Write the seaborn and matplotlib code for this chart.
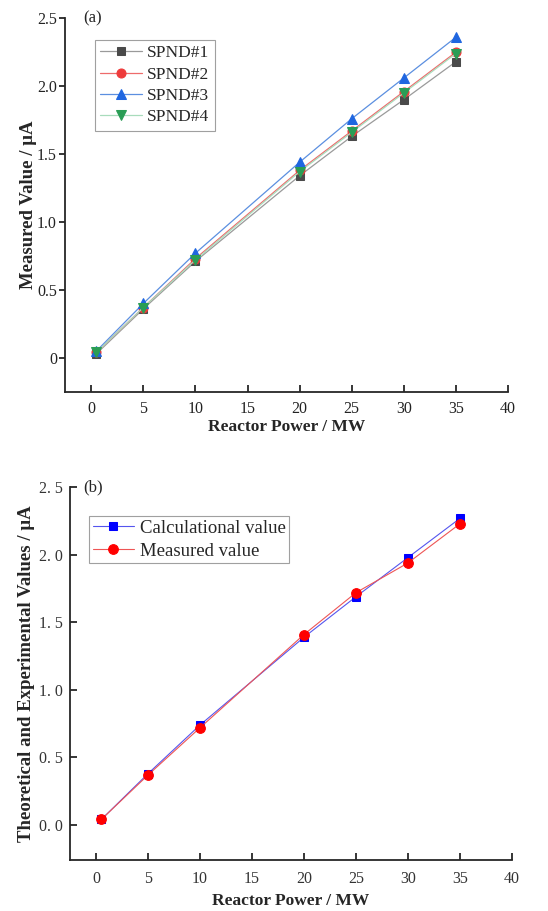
import pandas as pd
import seaborn as sns
import matplotlib.pyplot as plt

# Reactor power levels (MW)
power = [0.5, 5, 10, 20, 25, 30, 35]

# (a) SPND measured currents (uA)
spnd1 = [0.03, 0.36, 0.71, 1.34, 1.63, 1.90, 2.18]
spnd2 = [0.04, 0.37, 0.73, 1.38, 1.67, 1.96, 2.25]
spnd3 = [0.05, 0.40, 0.77, 1.44, 1.76, 2.06, 2.36]
spnd4 = [0.04, 0.37, 0.72, 1.37, 1.66, 1.95, 2.24]

# (b) calculated vs measured (uA)
calc_vals = [0.04, 0.38, 0.74, 1.39, 1.69, 1.98, 2.27]
meas_vals = [0.04, 0.37, 0.72, 1.41, 1.72, 1.94, 2.23]

x_ticks = [0, 5, 10, 15, 20, 25, 30, 35, 40]
y_ticks = [0, 0.5, 1.0, 1.5, 2.0, 2.5]
y_labels_a = ["0", "0.5", "1.0", "1.5", "2.0", "2.5"]
y_labels_b = ["0. 0", "0. 5", "1. 0", "1. 5", "2. 0", "2. 5"]

sns.set_theme(style="ticks")
plt.rcParams["font.family"] = ["Liberation Serif", "DejaVu Serif"]
plt.rcParams["axes.linewidth"] = 1.3

fig = plt.figure(figsize=(5.48, 9.11), dpi=100)
ax1 = fig.add_axes([0.119, 0.570, 0.808, 0.410])
ax2 = fig.add_axes([0.128, 0.056, 0.806, 0.409])

# Panel (a)
series_a = [
    ("SPND#1", spnd1, "s", 6, "#4a4a4a", "#9a9a9a"),
    ("SPND#2", spnd2, "o", 6.5, "#ee3b3b", "#ee6b6b"),
    ("SPND#3", spnd3, "^", 7, "#1f66e0", "#5b8fe0"),
    ("SPND#4", spnd4, "v", 7, "#2a9d55", "#a8dcbc"),
]
for name, vals, mk, ms, mcol, lcol in series_a:
    df = pd.DataFrame({"power": power, "value": vals})
    sns.lineplot(data=df, x="power", y="value", ax=ax1, color=lcol, lw=0.9,
                 marker=mk, markersize=ms, markerfacecolor=mcol,
                 markeredgecolor=mcol, label=name)

ax1.set_xlim(-2.5, 40)
ax1.set_ylim(-0.25, 2.5)
ax1.set_xticks(x_ticks)
ax1.set_yticks(y_ticks)
ax1.set_yticklabels(y_labels_a)
ax1.tick_params(axis="x", direction="in", length=5, width=1.3, labelsize=11.5,
                pad=7, labelcolor="#222222")
ax1.tick_params(axis="y", direction="out", length=4, width=1.3, labelsize=11.5,
                pad=2, labelcolor="#222222")
ax1.set_xlabel("Reactor Power / MW", fontsize=12.5, fontweight="bold", labelpad=1)
ax1.set_ylabel("Measured Value / \u03bcA", fontsize=13.5, fontweight="bold", labelpad=0)
ax1.text(0.04, 1.0, "(a)", transform=ax1.transAxes, fontsize=12, va="center")
sns.despine(ax=ax1)
leg = ax1.legend(loc="upper left", bbox_to_anchor=(95 / 548, 1 - 40 / 911),
                 bbox_transform=fig.transFigure, fontsize=12.5, frameon=True,
                 fancybox=False, edgecolor="#888888", handlelength=2.4,
                 borderpad=0.3, labelspacing=0.3, handletextpad=0.3,
                 borderaxespad=0)
leg.get_frame().set_linewidth(0.8)

# Panel (b)
series_b = [
    ("Calculational value", calc_vals, "s", 6, "#0000ff", "#5555ee"),
    ("Measured value", meas_vals, "o", 7, "#ff0000", "#ee5555"),
]
for name, vals, mk, ms, mcol, lcol in series_b:
    df = pd.DataFrame({"power": power, "value": vals})
    sns.lineplot(data=df, x="power", y="value", ax=ax2, color=lcol, lw=0.8,
                 marker=mk, markersize=ms, markerfacecolor=mcol,
                 markeredgecolor=mcol, label=name)

ax2.set_xlim(-2.5, 40)
ax2.set_ylim(-0.26, 2.5)
ax2.set_xticks(x_ticks)
ax2.set_yticks(y_ticks)
ax2.set_yticklabels(y_labels_b)
ax2.tick_params(axis="x", direction="in", length=5, width=1.3, labelsize=11.5,
                pad=8, labelcolor="#333333")
ax2.tick_params(axis="y", direction="in", length=5, width=1.3, labelsize=11.5,
                pad=5, labelcolor="#333333")
ax2.set_xlabel("Reactor Power / MW", fontsize=12.5, fontweight="bold", labelpad=4)
ax2.set_ylabel("Theoretical and Experimental Values / \u03bcA", fontsize=13.5,
               fontweight="bold", labelpad=3)
ax2.text(0.03, 1.0, "(b)", transform=ax2.transAxes, fontsize=12, va="center")
sns.despine(ax=ax2)
leg2 = ax2.legend(loc="upper left", bbox_to_anchor=(89 / 548, 1 - 516 / 911),
                  bbox_transform=fig.transFigure, fontsize=13.5, frameon=True,
                  fancybox=False, edgecolor="#888888", handlelength=2.2,
                  borderpad=0.2, labelspacing=0.3, handletextpad=0.3,
                  borderaxespad=0)
leg2.get_frame().set_linewidth(0.8)

fig.savefig("out.png", dpi=100)
plt.close(fig)
